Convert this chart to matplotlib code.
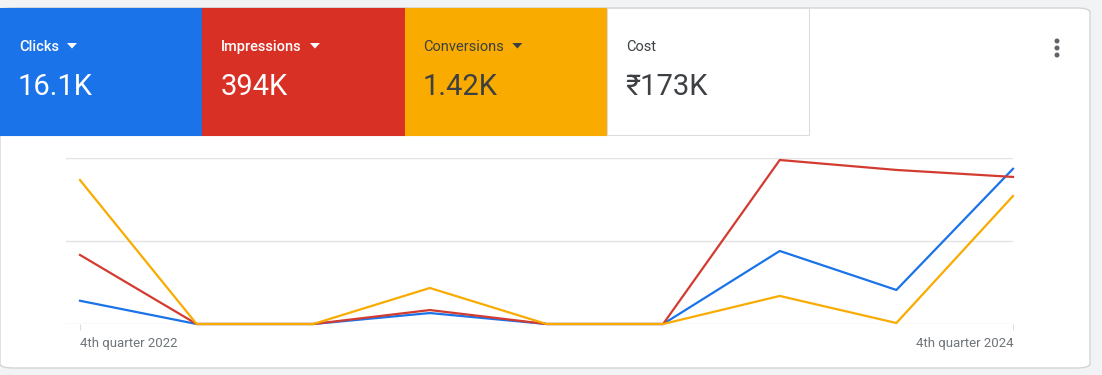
import matplotlib.pyplot as plt
from matplotlib.patches import FancyBboxPatch, Rectangle, Ellipse, Polygon

plt.rcParams["font.family"] = ["Roboto", "DejaVu Sans"]

# quarterly points, 4th quarter 2022 .. 4th quarter 2024
quarters = ["4th quarter 2022", "1st quarter 2023", "2nd quarter 2023", "3rd quarter 2023",
            "4th quarter 2023", "1st quarter 2024", "2nd quarter 2024", "3rd quarter 2024",
            "4th quarter 2024"]
# each series on its own scale, shown as % of chart height
clicks = [14, 0, 0, 6.6, 0, 0, 44, 20.5, 93.5]
impressions = [41.6, 0, 0, 8.4, 0, 0, 98.8, 92.8, 88.6]
conversions = [86.7, 0, 0, 21.7, 0, 0, 16.9, 0.6, 77.1]

tile_labels = ["Clicks", "Impressions", "Conversions", "Cost"]
tile_values = ["16.1K", "394K", "1.42K", "₹173K"]

BLUE, RED, ORANGE = "#1a73e8", "#d93025", "#f9ab00"
tile_colors = [BLUE, RED, ORANGE, "white"]
line_colors = [BLUE, "#d33b30", ORANGE]
has_arrow = [True, True, True, False]

W, H = 1102, 375
fig = plt.figure(figsize=(W / 100, H / 100), dpi=100)
fig.patch.set_facecolor("#f1f3f4")

def fx(px):
    return px / W

def fy(py):
    return 1 - py / H

# card
card = FancyBboxPatch((fx(0), fy(368)), fx(1090), (368 - 8) / H,
                      boxstyle="round,pad=0,rounding_size=0.012",
                      transform=fig.transFigure, facecolor="white",
                      edgecolor="#d2d4d7", linewidth=1.0, zorder=-2)
fig.patches.append(card)

# tiles
for i, (lab, val, col) in enumerate(zip(tile_labels, tile_values, tile_colors)):
    x0 = i * 202.3
    r = Rectangle((fx(x0), fy(135)), fx(202.3), (135 - 8) / H, transform=fig.transFigure,
                  facecolor=col, edgecolor="#dadce0" if col == "white" else col,
                  linewidth=0.8, zorder=-1)
    fig.patches.append(r)
    tc = "white" if i < 2 else "#3c4043"
    t = fig.text(fx(x0 + 19), fy(45.5), lab, color=tc, fontsize=10.5,
                 va="center_baseline", ha="left", fontweight="medium" if i < 2 else "normal")
    fig.text(fx(x0 + 18), fy(84), val, color=tc, fontsize=21, va="center_baseline", ha="left")
    if has_arrow[i]:
        fig.canvas.draw()
        bb = t.get_window_extent()
        ax0 = bb.x1 + 8
        tri = Polygon([(ax0 / W, fy(43)), ((ax0 + 10) / W, fy(43)), ((ax0 + 5) / W, fy(48.5))],
                      closed=True, transform=fig.transFigure, facecolor=tc,
                      edgecolor="none", zorder=1)
        fig.patches.append(tri)

# kebab menu
for py in (41, 48, 55):
    fig.patches.append(Ellipse((fx(1057), fy(py)), 5 / W, 5 / H, transform=fig.transFigure,
                               facecolor="#5f6368", edgecolor="none", zorder=1))

# chart
ax = fig.add_axes([fx(66), fy(324), fx(1013 - 66), (324 - 158) / H])
ax.set_zorder(2)
ax.set_facecolor("none")
x = list(range(len(quarters)))
for series, c in zip([clicks, impressions, conversions], line_colors):
    ax.plot(x, series, color=c, linewidth=1.6, zorder=3, clip_on=False)

ax.set_xlim(-0.12, 8)
ax.set_ylim(0, 100)
ax.set_yticks([0, 50, 100])
ax.yaxis.grid(True, color="#e3e3e3", linewidth=1.0)
ax.tick_params(axis="y", left=False, labelleft=False)
for s in ax.spines.values():
    s.set_visible(False)
ax.set_xticks([0, 8])
ax.set_xticklabels([quarters[0], quarters[-1]], color="#70757a", fontsize=9.5)
ax.tick_params(axis="x", length=4, color="#dadce0", pad=5)
lbls = ax.get_xticklabels()
lbls[0].set_ha("left")
lbls[1].set_ha("right")

fig.savefig("out.png", dpi=100, facecolor=fig.get_facecolor())
